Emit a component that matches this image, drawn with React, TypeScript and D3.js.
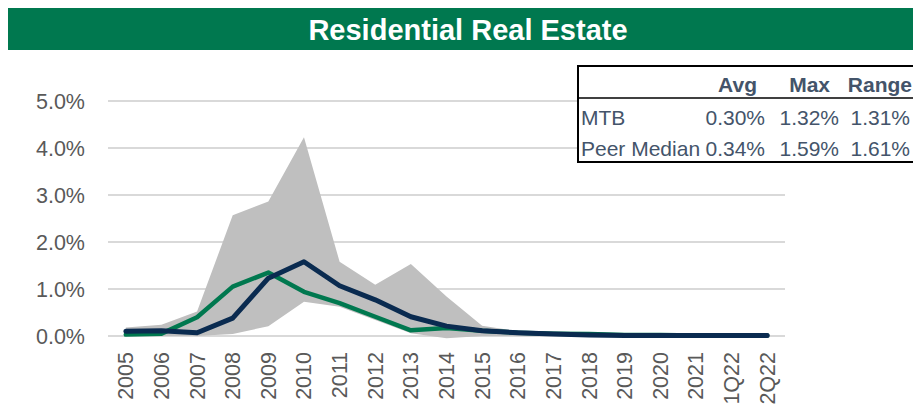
import { useRef, useEffect } from 'react';
import * as d3 from 'd3';

const categories = [
  '2005', '2006', '2007', '2008', '2009', '2010', '2011', '2012', '2013', '2014',
  '2015', '2016', '2017', '2018', '2019', '2020', '2021', '1Q22', '2Q22',
];
// values in percent
const mtb = [0.03, 0.05, 0.4, 1.05, 1.35, 0.94, 0.7, 0.41, 0.12, 0.17, 0.11, 0.07, 0.05, 0.04, 0.02, 0.02, 0.01, 0.01, 0.01];
const peerMedian = [0.1, 0.11, 0.07, 0.38, 1.23, 1.58, 1.07, 0.77, 0.41, 0.21, 0.11, 0.07, 0.04, 0.02, 0.01, 0.01, 0.01, 0.01, 0.01];
const rangeHigh = [0.18, 0.24, 0.52, 2.57, 2.86, 4.23, 1.58, 1.09, 1.53, 0.84, 0.22, 0.1, 0.06, 0.04, 0.03, 0.02, 0.02, 0.02, 0.02];
const rangeLow = [0, 0, 0, 0.04, 0.21, 0.73, 0.62, 0.34, 0.06, -0.05, 0, 0, 0, 0, 0, 0, 0, 0, 0];
const yTicks = [0, 1, 2, 3, 4, 5];

const tableHeader = ['', 'Avg', 'Max', 'Range'];
const tableRows = [
  ['MTB', '0.30%', '1.32%', '1.31%'],
  ['Peer Median', '0.34%', '1.59%', '1.61%'],
];

const GREEN = '#00784F';
const NAVY = '#0A2B50';
const TEXT = '#595959';
const SLATE = '#44546A';
const FONT = 'Liberation Sans, Arial, sans-serif';

export default function App() {
  const ref = useRef<SVGSVGElement>(null);

  useEffect(() => {
    if (!ref.current) return;
    const width = 913;
    const height = 409;
    const plot = { left: 108, right: 785, top: 101, bottom: 336 };

    d3.select(ref.current).selectAll('*').remove();
    const svg = d3.select(ref.current).attr('width', width).attr('height', height);

    // title bar
    svg.append('rect').attr('x', 8).attr('y', 8).attr('width', width - 8).attr('height', 42).attr('fill', GREEN);
    svg
      .append('text')
      .attr('x', 468)
      .attr('y', 40)
      .attr('text-anchor', 'middle')
      .attr('fill', '#fff')
      .attr('font-family', FONT)
      .attr('font-weight', 'bold')
      .attr('font-size', 29)
      .text('Residential Real Estate');

    const x = d3.scaleBand().domain(categories).range([plot.left, plot.right]);
    const cx = (d: string) => (x(d) || 0) + x.bandwidth() / 2;
    const y = d3.scaleLinear().domain([0, 5]).range([plot.bottom, plot.top]);

    // gridlines
    svg
      .append('g')
      .selectAll('line')
      .data(yTicks)
      .join('line')
      .attr('x1', plot.left)
      .attr('x2', plot.right)
      .attr('y1', (d) => y(d))
      .attr('y2', (d) => y(d))
      .attr('stroke', '#D9D9D9')
      .attr('stroke-width', 2);

    // y labels
    svg
      .append('g')
      .selectAll('text')
      .data(yTicks)
      .join('text')
      .attr('x', 85)
      .attr('y', (d) => y(d) + 7.5)
      .attr('text-anchor', 'end')
      .attr('fill', TEXT)
      .attr('font-family', FONT)
      .attr('font-size', 21.5)
      .text((d) => d3.format('.1f')(d) + '%');

    // x labels
    svg
      .append('g')
      .selectAll('text')
      .data(categories)
      .join('text')
      .attr('transform', (d) => `translate(${cx(d) + 7.5},352) rotate(-90)`)
      .attr('text-anchor', 'end')
      .attr('fill', TEXT)
      .attr('font-family', FONT)
      .attr('font-size', 21.5)
      .text((d) => d);

    // min-max range area
    const area = d3
      .area<number>()
      .x((_, i) => cx(categories[i]))
      .y0((_, i) => y(rangeLow[i]))
      .y1((d) => y(d));
    svg.append('path').datum(rangeHigh).attr('d', area).attr('fill', '#BFBFBF');

    const line = d3
      .line<number>()
      .x((_, i) => cx(categories[i]))
      .y((d) => y(d));
    svg
      .append('path')
      .datum(mtb)
      .attr('d', line)
      .attr('fill', 'none')
      .attr('stroke', GREEN)
      .attr('stroke-width', 4.5)
      .attr('stroke-linejoin', 'round')
      .attr('stroke-linecap', 'round');
    svg
      .append('path')
      .datum(peerMedian)
      .attr('d', line)
      .attr('fill', 'none')
      .attr('stroke', NAVY)
      .attr('stroke-width', 5)
      .attr('stroke-linejoin', 'round')
      .attr('stroke-linecap', 'round');

    // stats table
    const table = svg.append('g');
    table
      .append('rect')
      .attr('x', 578)
      .attr('y', 66)
      .attr('width', 340)
      .attr('height', 96)
      .attr('fill', '#fff')
      .attr('stroke', '#000')
      .attr('stroke-width', 2);
    table.append('line').attr('x1', 578).attr('x2', 913).attr('y1', 98).attr('y2', 98).attr('stroke', '#000').attr('stroke-width', 1.5);
    const headRight = [0, 757, 830, 912];
    const colRight = [0, 765, 839, 910];
    tableHeader.forEach((h, i) => {
      if (!h) return;
      table
        .append('text')
        .attr('x', headRight[i])
        .attr('y', 92)
        .attr('text-anchor', 'end')
        .attr('fill', SLATE)
        .attr('font-family', FONT)
        .attr('font-weight', 'bold')
        .attr('font-size', 21)
        .text(h);
    });
    tableRows.forEach((row, r) => {
      row.forEach((cell, i) => {
        table
          .append('text')
          .attr('x', i === 0 ? 581 : colRight[i])
          .attr('y', 125 + r * 31)
          .attr('text-anchor', i === 0 ? 'start' : 'end')
          .attr('fill', SLATE)
          .attr('font-family', FONT)
          .attr('font-size', 21)
          .text(cell);
      });
    });
  }, []);

  return <svg ref={ref} style={{ position: 'absolute', left: 0, top: 0 }}></svg>;
}
